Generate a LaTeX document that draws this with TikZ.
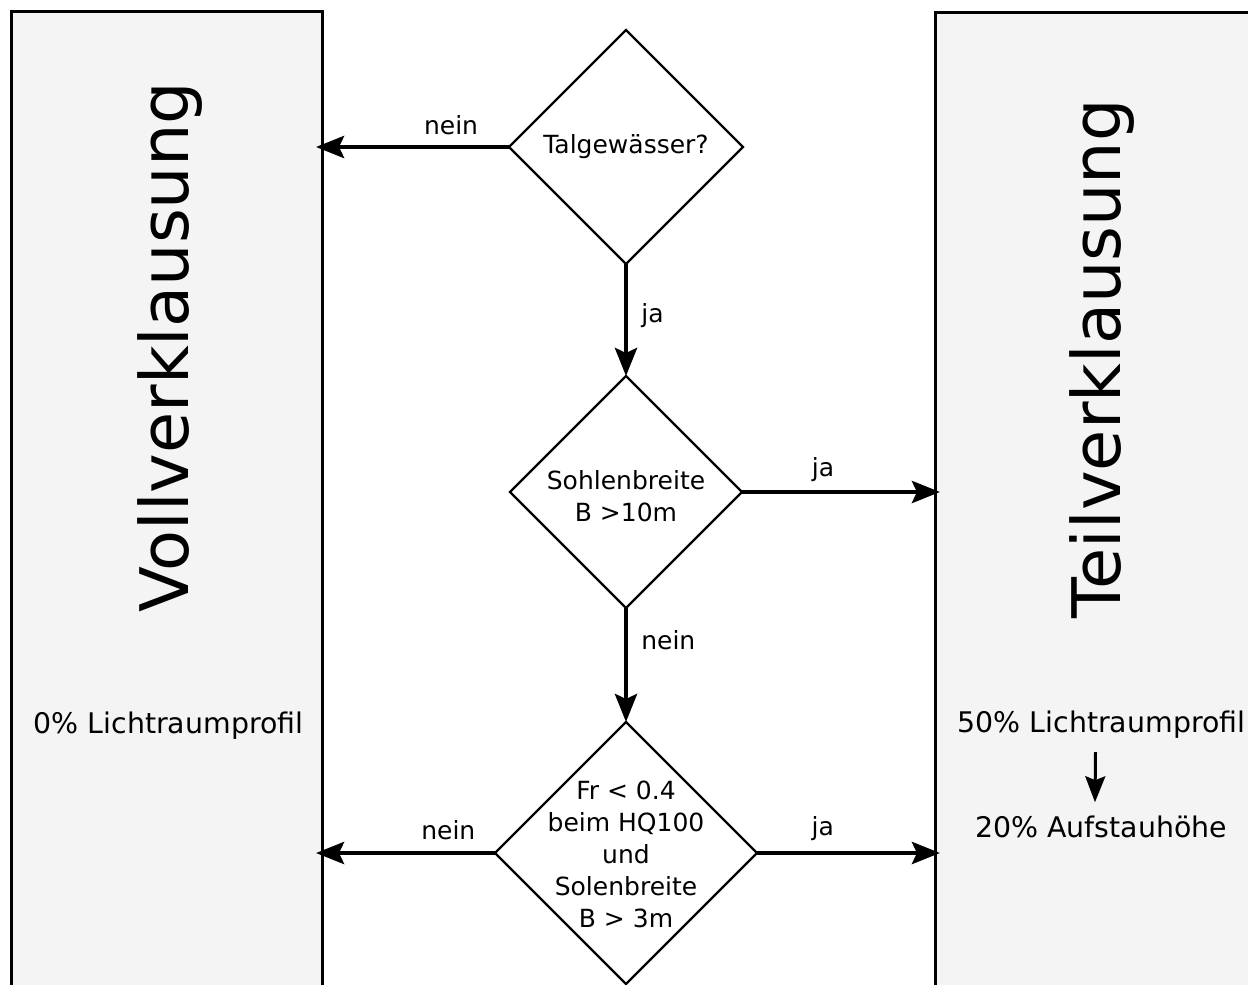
\documentclass[tikz,border=0pt]{standalone}
\usepackage{fontspec}
\setmainfont{DejaVu Sans}
\usetikzlibrary{shapes.geometric,arrows.meta,positioning}
\definecolor{panelgray}{HTML}{F4F4F4}

\tikzset{
    panel/.style={draw, line width=3pt, fill=panelgray, anchor=north west, inner sep=0pt, outer sep=0pt, minimum height=1000pt},
    decision/.style={diamond, draw, line width=2.4pt, fill=white, aspect=1, inner sep=0pt, outer sep=0pt},
    diatext/.style={font=\fontsize{25pt}{32pt}\selectfont, inner sep=0pt, align=center},
    lbl/.style={font=\fontsize{25pt}{30pt}\selectfont, inner sep=0pt, text depth=0pt},
    bigtitle/.style={font=\fontsize{67pt}{80pt}\selectfont, inner sep=0pt, rotate=90, anchor=base},
    note/.style={font=\fontsize{28.4pt}{34pt}\selectfont, inner sep=0pt, anchor=base},
    flow/.style={line width=4.6pt, -{Stealth[length=28pt,width=22pt,inset=5pt]}},
    thinflow/.style={line width=3pt, -{Stealth[length=26pt,width=20pt,inset=4pt]}}
}

\begin{document}
\begin{tikzpicture}[x=1pt,y=-1pt]
    \useasboundingbox (0,0) rectangle (1248,985);
    \clip (0,0) rectangle (1248,985);

    % side panels
    \node[panel, minimum width=311pt] (voll) at (11,11.5) {};
    \node[panel, minimum width=340pt] (teil) at (935,12.5) {};

    \node[bigtitle] (volltitle) at (188,347) {Vollverklausung};
    \node[bigtitle] (teiltitle) at (1120,359) {Teilverklausung};

    \node[note] (vollprof) at (168.5,733) {0\% Lichtraumprofil};
    \node[note] (teilprof) at (1101.5,732) {50\% Lichtraumprofil};
    \node[note] (teilstau) at (1101,837) {20\% Aufstauhöhe};
    \draw[thinflow] ([xshift=-6pt,yshift=-14pt]teilprof.south) -- ([xshift=-6pt,yshift=13pt]teilstau.north);

    % decisions
    \node[decision, minimum size=234pt, label={[diatext]center:Talgewässer?}] (talg) at (626,147) {};
    \node[decision, minimum size=232pt, below=112pt of talg,
          label={[diatext, yshift=-4.5pt]center:{Sohlenbreite\\B >10m}}] (sohle) {};
    \node[decision, minimum size=262pt, below=114pt of sohle,
          label={[diatext, yshift=-1pt]center:{Fr < 0.4\\beim HQ100\\und\\Solenbreite\\B > 3m}}] (froude) {};

    % connectors
    \draw[flow, shorten >=-6pt] (talg.west) -- (talg.west -| voll.east) node[lbl, pos=0.31, above=10pt] {nein};
    \draw[flow] (talg.south) -- (sohle.north) node[lbl, pos=0.44, right=13pt] {ja};
    \draw[flow, shorten >=-5pt] (sohle.east) -- (sohle.east -| teil.west) node[lbl, pos=0.42, above=13pt] {ja};
    \draw[flow] (sohle.south) -- (froude.north) node[lbl, pos=0.28, right=13pt] {nein};
    \draw[flow, shorten >=-6pt] (froude.west) -- (froude.west -| voll.east) node[lbl, pos=0.27, above=11pt] {nein};
    \draw[flow, shorten >=-5pt] (froude.east) -- (froude.east -| teil.west) node[lbl, pos=0.37, above=15pt] {ja};

\end{tikzpicture}
\end{document}
